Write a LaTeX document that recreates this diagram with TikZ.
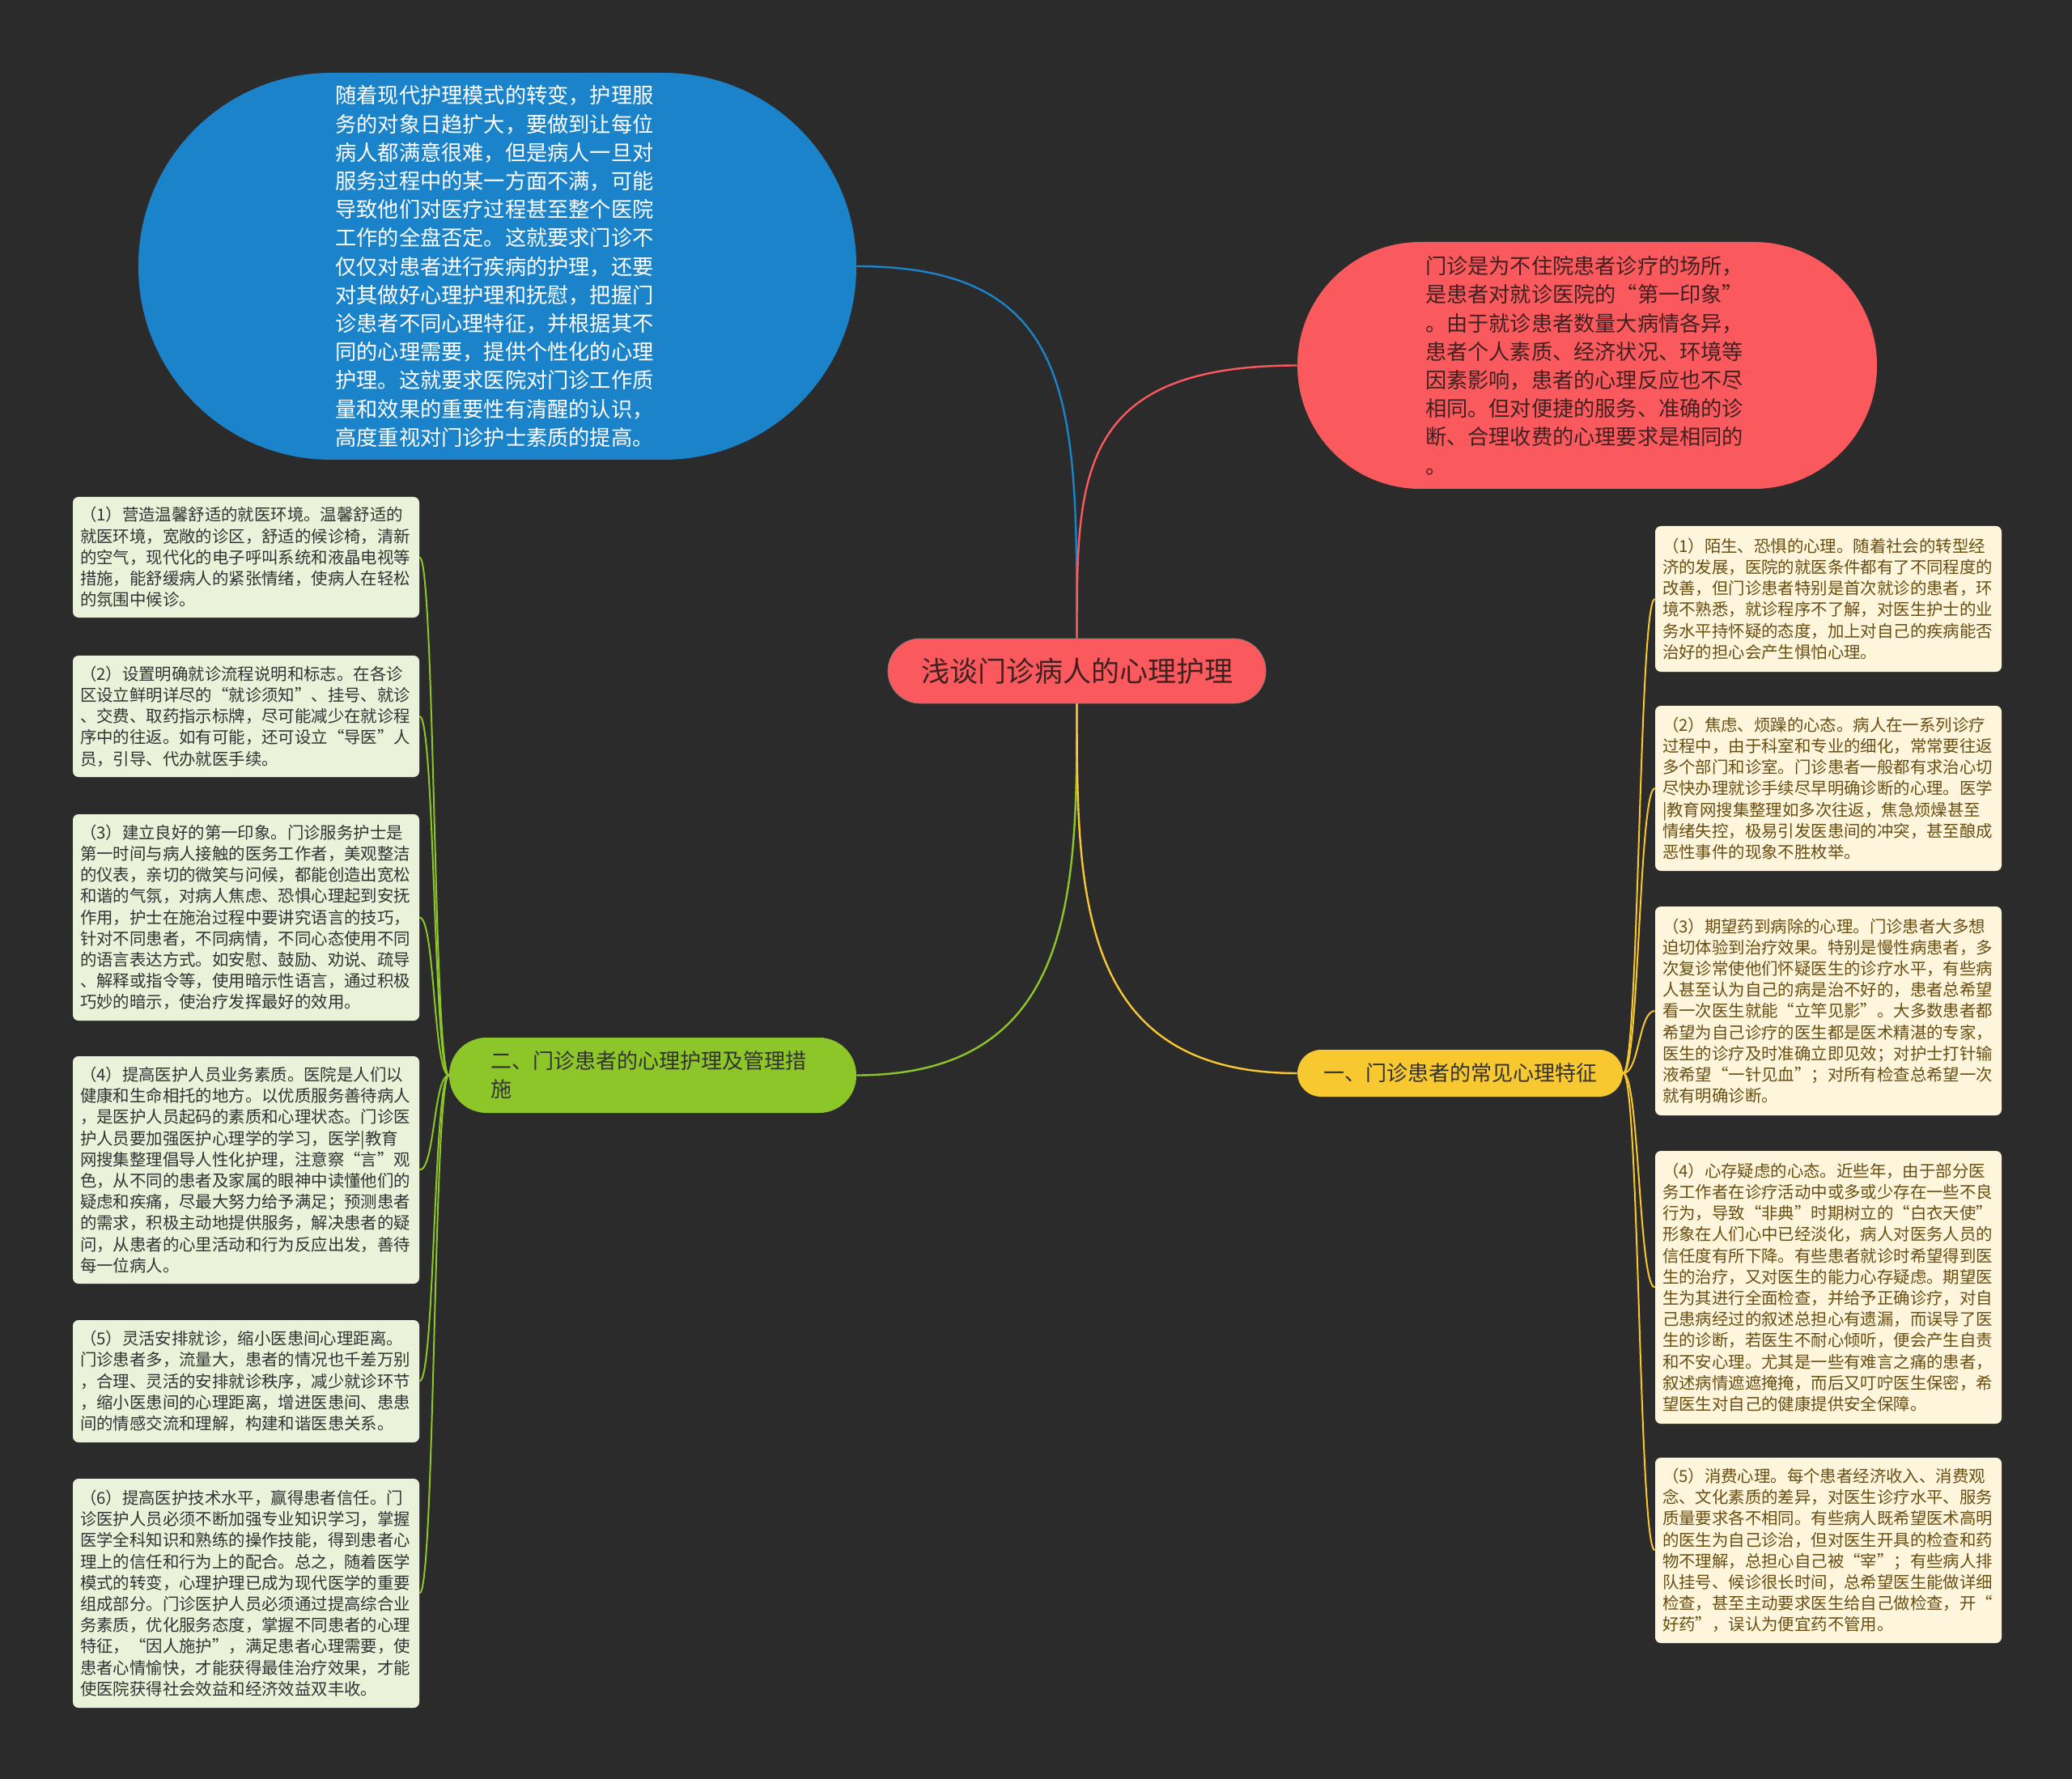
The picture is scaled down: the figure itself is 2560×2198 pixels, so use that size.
\documentclass[tikz,border=0pt]{standalone}
\usepackage{fontspec}
\setmainfont{Noto Sans CJK SC}
\usetikzlibrary{arrows}

\definecolor{bgdark}{RGB}{43,43,43}
\definecolor{mapred}{RGB}{250,90,94}
\definecolor{mapblue}{RGB}{27,131,201}
\definecolor{mapgreen}{RGB}{141,198,40}
\definecolor{mapyellow}{RGB}{248,200,48}
\definecolor{leafgreen}{RGB}{234,242,218}
\definecolor{leafcream}{RGB}{253,246,221}
\definecolor{inkdark}{RGB}{51,51,51}
\definecolor{inkred}{RGB}{66,32,32}
\definecolor{inkbrown}{RGB}{105,78,18}

\tikzset{
  leaf/.style  = {rectangle, rounded corners=3.5pt, text width=205pt, inner xsep=4.5pt,
                  align=left, font=\fontsize{10.2}{13.1}\selectfont},
  lleaf/.style = {leaf, fill=leafgreen, text=inkdark},
  rleaf/.style = {leaf, fill=leafcream, text=inkbrown},
  bubble/.style= {rectangle, align=left, font=\fontsize{13.1}{17.6}\selectfont},
  branch/.style= {rectangle, align=left, text=inkdark, font=\fontsize{13}{17.5}\selectfont}
}

\begin{document}
\begin{tikzpicture}[x=0.5pt,y=-0.5pt]
\fill[bgdark] (0,0) rectangle (2560,2198);

% main topics
\node (root) [bubble, fill=mapred, draw=inkred!60, line width=0.4pt, rounded corners=19.9pt,
      minimum width=233.5pt, minimum height=40pt, align=center, text=inkred,
      font=\fontsize{17.5}{20}\selectfont] at (1330.5,829) {浅谈门诊病人的心理护理};

\node (intro) [bubble, fill=mapblue, text=white, text width=200pt, rounded corners=119pt,
      minimum width=443.5pt, minimum height=239pt] at (614.5,329)
{随着现代护理模式的转变，护理服\\
务的对象日趋扩大，要做到让每位\\
病人都满意很难，但是病人一旦对\\
服务过程中的某一方面不满，可能\\
导致他们对医疗过程甚至整个医院\\
工作的全盘否定。这就要求门诊不\\
仅仅对患者进行疾病的护理，还要\\
对其做好心理护理和抚慰，把握门\\
诊患者不同心理特征，并根据其不\\
同的心理需要，提供个性化的心理\\
护理。这就要求医院对门诊工作质\\
量和效果的重要性有清醒的认识，\\
高度重视对门诊护士素质的提高。};

\node (place) [bubble, fill=mapred, text=inkred, text width=200pt, rounded corners=76pt,
      minimum width=358pt, minimum height=152.5pt] at (1961,451.5)
{门诊是为不住院患者诊疗的场所，\\
是患者对就诊医院的“第一印象”\\
。由于就诊患者数量大病情各异，\\
患者个人素质、经济状况、环境等\\
因素影响，患者的心理反应也不尽\\
相同。但对便捷的服务、准确的诊\\
断、合理收费的心理要求是相同的\\
。};

\node (care) [branch, fill=mapgreen, text width=200pt, rounded corners=23pt,
      minimum width=251.5pt, minimum height=46.5pt] at (806.5,1328.5)
{二、门诊患者的心理护理及管理措\\施};

\node (trait) [branch, fill=mapyellow, rounded corners=14.5pt, align=center,
      minimum width=201pt, minimum height=29pt] at (1804,1326)
{一、门诊患者的常见心理特征};

% left leaves
\node (ca) [lleaf, minimum height=74.5pt] at (304,688.5)
{（1）营造温馨舒适的就医环境。温馨舒适的\\
就医环境，宽敞的诊区，舒适的候诊椅，清新\\
的空气，现代化的电子呼叫系统和液晶电视等\\
措施，能舒缓病人的紧张情绪，使病人在轻松\\
的氛围中候诊。};

\node (cb) [lleaf, minimum height=75pt] at (304,885)
{（2）设置明确就诊流程说明和标志。在各诊\\
区设立鲜明详尽的“就诊须知”、挂号、就诊\\
、交费、取药指示标牌，尽可能减少在就诊程\\
序中的往返。如有可能，还可设立“导医”人\\
员，引导、代办就医手续。};

\node (cc) [lleaf, minimum height=127.5pt] at (304,1133.5)
{（3）建立良好的第一印象。门诊服务护士是\\
第一时间与病人接触的医务工作者，美观整洁\\
的仪表，亲切的微笑与问候，都能创造出宽松\\
和谐的气氛，对病人焦虑、恐惧心理起到安抚\\
作用，护士在施治过程中要讲究语言的技巧，\\
针对不同患者，不同病情，不同心态使用不同\\
的语言表达方式。如安慰、鼓励、劝说、疏导\\
、解释或指令等，使用暗示性语言，通过积极\\
巧妙的暗示，使治疗发挥最好的效用。};

\node (cd) [lleaf, minimum height=140.5pt] at (304,1445.5)
{（4）提高医护人员业务素质。医院是人们以\\
健康和生命相托的地方。以优质服务善待病人\\
，是医护人员起码的素质和心理状态。门诊医\\
护人员要加强医护心理学的学习，医学|教育\\
网搜集整理倡导人性化护理，注意察“言”观\\
色，从不同的患者及家属的眼神中读懂他们的\\
疑虑和疾痛，尽最大努力给予满足；预测患者\\
的需求，积极主动地提供服务，解决患者的疑\\
问，从患者的心里活动和行为反应出发，善待\\
每一位病人。};

\node (ce) [lleaf, minimum height=75.5pt] at (304,1706.5)
{（5）灵活安排就诊，缩小医患间心理距离。\\
门诊患者多，流量大，患者的情况也千差万别\\
，合理、灵活的安排就诊秩序，减少就诊环节\\
，缩小医患间的心理距离，增进医患间、患患\\
间的情感交流和理解，构建和谐医患关系。};

\node (cf) [lleaf, minimum height=141.5pt] at (304,1968.5)
{（6）提高医护技术水平，赢得患者信任。门\\
诊医护人员必须不断加强专业知识学习，掌握\\
医学全科知识和熟练的操作技能，得到患者心\\
理上的信任和行为上的配合。总之，随着医学\\
模式的转变，心理护理已成为现代医学的重要\\
组成部分。门诊医护人员必须通过提高综合业\\
务素质，优化服务态度，掌握不同患者的心理\\
特征，“因人施护”，满足患者心理需要，使\\
患者心情愉快，才能获得最佳治疗效果，才能\\
使医院获得社会效益和经济效益双丰收。};

% right leaves
\node (ta) [rleaf, minimum height=90pt] at (2259,740)
{（1）陌生、恐惧的心理。随着社会的转型经\\
济的发展，医院的就医条件都有了不同程度的\\
改善，但门诊患者特别是首次就诊的患者，环\\
境不熟悉，就诊程序不了解，对医生护士的业\\
务水平持怀疑的态度，加上对自己的疾病能否\\
治好的担心会产生惧怕心理。};

\node (tb) [rleaf, minimum height=102pt] at (2259,974)
{（2）焦虑、烦躁的心态。病人在一系列诊疗\\
过程中，由于科室和专业的细化，常常要往返\\
多个部门和诊室。门诊患者一般都有求治心切\\
尽快办理就诊手续尽早明确诊断的心理。医学\\
|教育网搜集整理如多次往返，焦急烦燥甚至\\
情绪失控，极易引发医患间的冲突，甚至酿成\\
恶性事件的现象不胜枚举。};

\node (tc) [rleaf, minimum height=129pt] at (2259,1249)
{（3）期望药到病除的心理。门诊患者大多想\\
迫切体验到治疗效果。特别是慢性病患者，多\\
次复诊常使他们怀疑医生的诊疗水平，有些病\\
人甚至认为自己的病是治不好的，患者总希望\\
看一次医生就能“立竿见影”。大多数患者都\\
希望为自己诊疗的医生都是医术精湛的专家，\\
医生的诊疗及时准确立即见效；对护士打针输\\
液希望“一针见血”；对所有检查总希望一次\\
就有明确诊断。};

\node (td) [rleaf, minimum height=168.5pt] at (2259,1590.5)
{（4）心存疑虑的心态。近些年，由于部分医\\
务工作者在诊疗活动中或多或少存在一些不良\\
行为，导致“非典”时期树立的“白衣天使”\\
形象在人们心中已经淡化，病人对医务人员的\\
信任度有所下降。有些患者就诊时希望得到医\\
生的治疗，又对医生的能力心存疑虑。期望医\\
生为其进行全面检查，并给予正确诊疗，对自\\
己患病经过的叙述总担心有遗漏，而误导了医\\
生的诊断，若医生不耐心倾听，便会产生自责\\
和不安心理。尤其是一些有难言之痛的患者，\\
叙述病情遮遮掩掩，而后又叮咛医生保密，希\\
望医生对自己的健康提供安全保障。};

\node (te) [rleaf, minimum height=114.5pt] at (2259,1915.5)
{（5）消费心理。每个患者经济收入、消费观\\
念、文化素质的差异，对医生诊疗水平、服务\\
质量要求各不相同。有些病人既希望医术高明\\
的医生为自己诊治，但对医生开具的检查和药\\
物不理解，总担心自己被“宰”；有些病人排\\
队挂号、候诊很长时间，总希望医生能做详细\\
检查，甚至主动要求医生给自己做检查，开“\\
好药”，误认为便宜药不管用。};

% links
\draw[mapblue, line width=1.2pt] (root.north) .. controls +(0,-290) and +(272,0) .. (intro.east);
\draw[mapred, line width=1.2pt] (root.north) .. controls +(0,-200) and +(-273,0) .. (place.west);
\draw[mapgreen, line width=1.2pt] (root.south) .. controls +(0,231) and +(272,0) .. (care.east);
\draw[mapyellow, line width=1.2pt] (root.south) .. controls +(0,231) and +(-273,0) .. (trait.west);

\foreach \b in {ca,cb,cc,cd,ce,cf}
  \draw[mapgreen, line width=1pt] (care.west) .. controls +(-19,0) and +(19,0) .. (\b.east);
\foreach \b in {ta,tb,tc,td,te}
  \draw[mapyellow, line width=1pt] (trait.east) .. controls +(20,0) and +(-20,0) .. (\b.west);
\end{tikzpicture}
\end{document}
